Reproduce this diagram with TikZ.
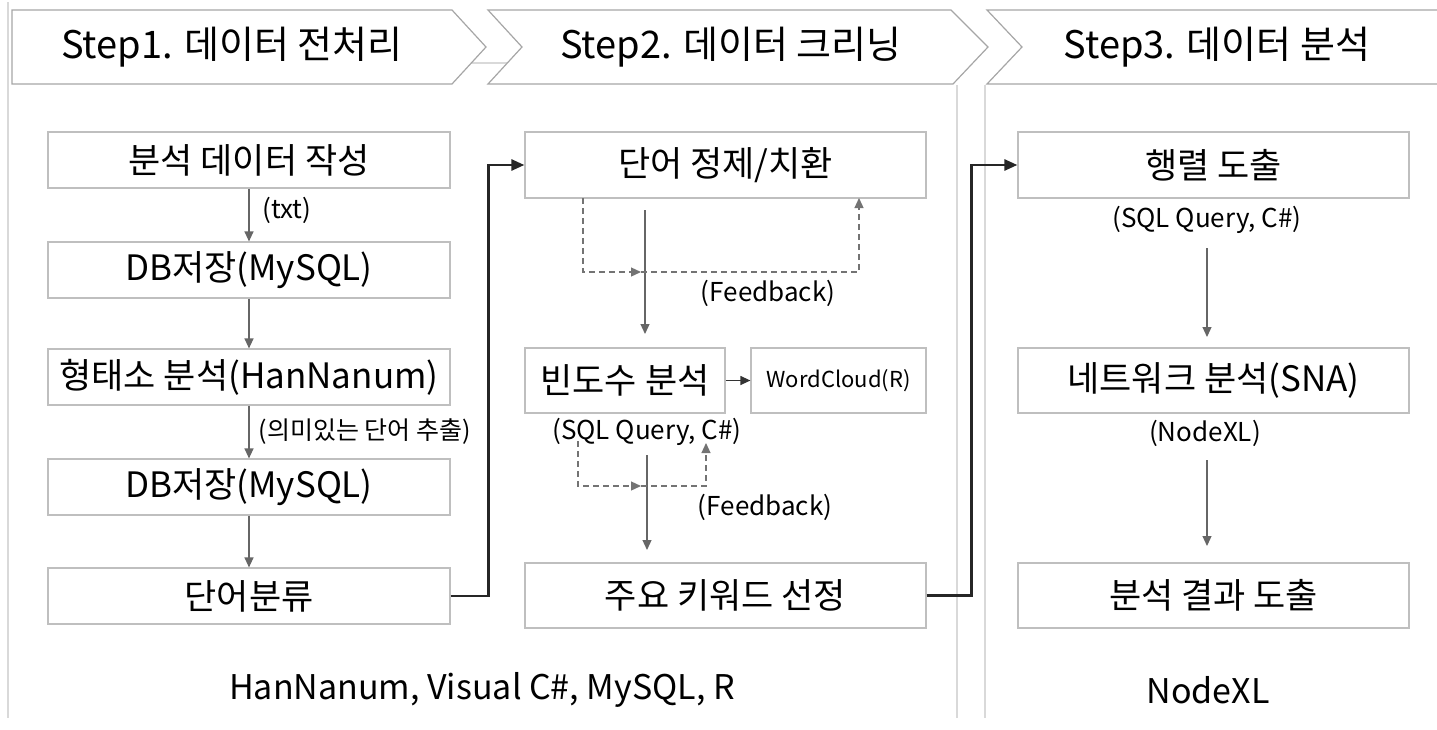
\documentclass[tikz,border=0pt]{standalone}
\usepackage{fontspec}
\setmainfont{Noto Sans CJK KR}
\usetikzlibrary{arrows.meta,positioning}

\begin{document}
\begin{tikzpicture}[x=1pt,y=-1pt,line width=1.2pt,
    box/.style={draw=black!25,fill=white,inner sep=0pt,minimum height=56pt,
      font=\fontsize{35}{40}\selectfont},
    note/.style={inner sep=0pt,font=\fontsize{26}{30}\selectfont},
    stephead/.style={inner sep=0pt,font=\fontsize{38}{44}\selectfont},
    flow/.style={draw=black!60,-{Triangle[length=10pt,width=9pt]}},
    fback/.style={draw=black!55,dash pattern=on 6pt off 4pt,-{Triangle[length=10pt,width=9pt]}},
    link/.style={draw=black!85,line width=2.6pt,-{Triangle[length=13pt,width=11pt]}}]

  \useasboundingbox (0,0) rectangle (1437,729);

  % Column borders
  \draw[black!15] (8,2) -- (8,718);
  \draw[black!15] (957,85) -- (957,718);
  \draw[black!15] (985,85) -- (985,718);
  \draw[black!15] (470,63) -- (508,63);

  % The three step headers
  \draw[black!35,fill=white] (12,10) -- (452,10) -- (486,47) -- (452,84) -- (12,84) -- cycle;
  \draw[black!35,fill=white] (488,10) -- (951,10) -- (988,47) -- (953,84) -- (488,84) -- (522,47) -- cycle;
  \draw[black!35,fill=white] (1437,10) -- (987,10) -- (1022,47) -- (987,84) -- (1437,84);
  \node[stephead] (step1) at (232,47) {Step1. 데이터 전처리};
  \node[stephead] (step2) at (731,47) {Step2. 데이터 크리닝};
  \node[stephead] (step3) at (1217,47) {Step3. 데이터 분석};

  % Step 1: preprocessing
  \node[box,minimum width=402pt] (write) at (249,160) {분석 데이터 작성};
  \node[box,minimum width=402pt] (store1) at (249,270) {DB저장(MySQL)};
  \node[box,minimum width=402pt] (morph) at (249,377) {형태소 분석(HanNanum)};
  \node[box,minimum width=402pt] (store2) at (249,487) {DB저장(MySQL)};
  \node[box,minimum width=402pt] (classify) at (249,596) {단어분류};
  \node[note,anchor=west] (txt) at (262,210) {(txt)};
  \node[note,anchor=west,font=\fontsize{25}{29}\selectfont] (extract) at (258,432) {(의미있는 단어 추출)};

  \draw[flow] (write) -- (store1);
  \draw[flow] (store1) -- (morph);
  \draw[flow] (morph) -- (store2);
  \draw[flow] (store2) -- (classify);

  % Step 2: cleaning
  \node[box,minimum width=401pt,minimum height=66pt] (refine) at (725.5,165) {단어 정제/치환};
  \node[box,minimum width=200pt,minimum height=65pt] (freq) at (625,380.5) {빈도수 분석};
  \node[box,minimum width=175pt,minimum height=65pt,font=\fontsize{22}{26}\selectfont] (cloud) at (838.5,380.5) {WordCloud(R)};
  \node[box,minimum width=401pt,minimum height=65pt] (keyword) at (725.5,595.5) {주요 키워드 선정};
  \node[note] (sqlA) at (647,432) {(SQL Query, C\#)};
  \node[note] (feedA) at (768,293) {(Feedback)};
  \node[note] (feedB) at (765,507) {(Feedback)};

  \coordinate (downA) at (645,210);
  \coordinate (downAend) at (645,334);
  \coordinate (downB) at (647,455);
  \coordinate (downBend) at (647,550);
  \draw[flow] (downA) -- (downAend);
  \draw[flow] (downB) -- (downBend);
  \draw[flow,draw=black!80] (freq) -- (cloud);

  % Feedback loops
  \coordinate (loopAin) at (583,198);
  \coordinate (loopAmid) at (641,272);
  \coordinate (loopAout) at (859,198);
  \draw[fback] (loopAin) |- (loopAmid);
  \draw[fback] (loopAmid) -| (loopAout);
  \coordinate (loopBin) at (578,441);
  \coordinate (loopBmid) at (641,486);
  \coordinate (loopBout) at (706,443);
  \draw[fback] (loopBin) |- (loopBmid);
  \draw[fback] (loopBmid) -| (loopBout);

  % Step 3: analysis
  \node[box,minimum width=391pt,minimum height=66pt] (matrix) at (1213.5,165) {행렬 도출};
  \node[box,minimum width=391pt,minimum height=65pt] (network) at (1213.5,380.5) {네트워크 분석(SNA)};
  \node[box,minimum width=391pt,minimum height=65pt] (result) at (1213.5,595.5) {분석 결과 도출};
  \node[note] (sqlB) at (1207,220) {(SQL Query, C\#)};
  \node[note] (nodexl) at (1205,433) {(NodeXL)};

  \coordinate (downC) at (1207,248);
  \coordinate (downCend) at (1207,337);
  \coordinate (downD) at (1207,460);
  \coordinate (downDend) at (1207,546);
  \draw[flow] (downC) -- (downCend);
  \draw[flow] (downD) -- (downDend);

  % Links between the steps
  \draw[link] (classify.east) -- ++(38,0) |- (refine.west);
  \draw[link] (keyword.east) -- ++(45,0) |- (matrix.west);

  % Tools used
  \node[note,font=\fontsize{34}{38}\selectfont] (toolsA) at (482,690) {HanNanum, Visual C\#, MySQL, R};
  \node[note,font=\fontsize{34}{38}\selectfont] (toolsB) at (1208,690) {NodeXL};

\end{tikzpicture}
\end{document}
